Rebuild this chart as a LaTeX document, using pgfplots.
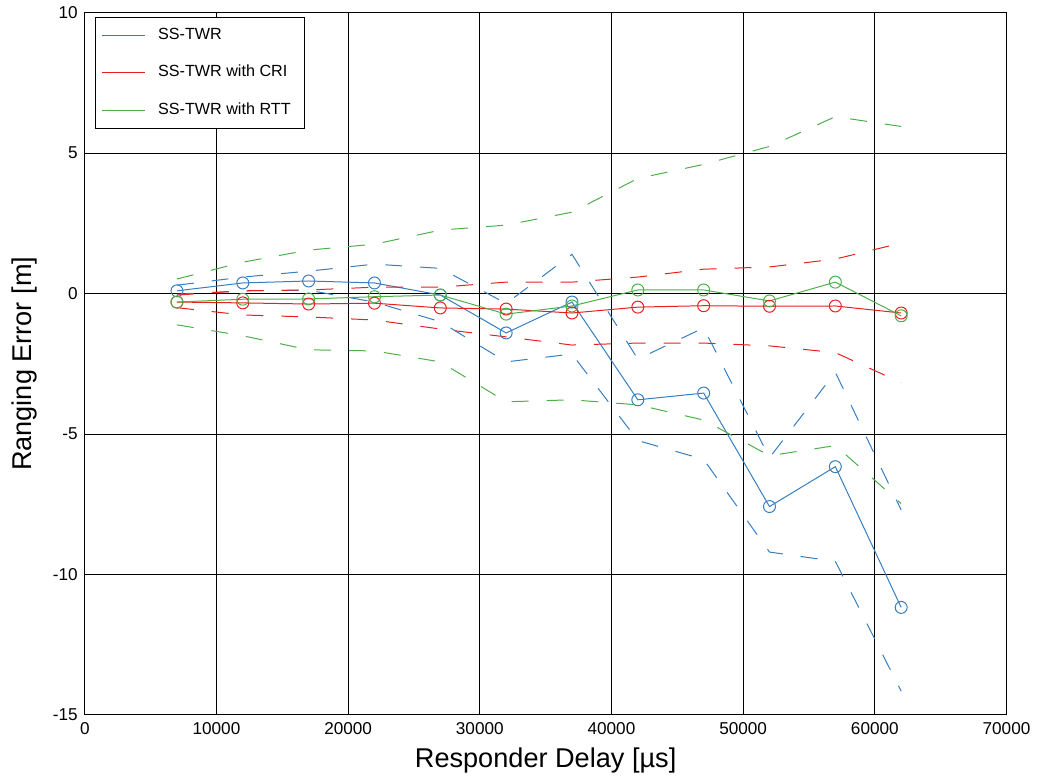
\documentclass[border=0pt]{standalone}
\usepackage{pgfplots}
\pgfplotsset{compat=1.18}
\usepackage{pgfplotstable}
\usepackage{fontspec}
\setmainfont{Liberation Sans}
\usetikzlibrary{calc}
\definecolor{cblue}{RGB}{55,126,190}
\definecolor{cred}{RGB}{235,30,30}
\definecolor{cgreen}{RGB}{77,175,74}

\pgfplotstableread{
x     bm     bu     bl     rm     ru     rl     gm     gu     gl
7000  0.10   0.30  -0.02  -0.30  -0.05  -0.50  -0.30   0.52  -1.11
12000 0.38   0.59   0.10  -0.33   0.10  -0.76  -0.20   1.12  -1.50
17000 0.45   0.80   0.12  -0.37   0.13  -0.83  -0.19   1.55  -2.00
22000 0.38   1.05  -0.30  -0.34   0.23  -0.94  -0.11   1.76  -2.04
27000 -0.05  0.90  -1.00  -0.51   0.23  -1.26  -0.05   2.26  -2.43
32000 -1.40 -0.35  -2.43  -0.55   0.41  -1.54  -0.73   2.44  -3.85
37000 -0.30  1.40  -2.15  -0.69   0.41  -1.83  -0.44   2.90  -3.78
42000 -3.78 -2.33  -5.23  -0.48   0.59  -1.76   0.13   4.10  -3.96
47000 -3.54 -1.22  -5.90  -0.43   0.87  -1.76   0.13   4.60  -4.50
52000 -7.58 -5.84  -9.20  -0.45   0.95  -1.86  -0.26   5.24  -5.77
57000 -6.16 -2.80  -9.53  -0.44   1.23  -2.10   0.41   6.30  -5.41
62000 -11.17 -7.70 -14.15 -0.69   1.80  -3.17  -0.79   5.95  -7.47
}\datatable

\begin{document}
\begin{tikzpicture}
\begin{axis}[
  width=462pt, height=352pt, scale only axis,
  xmin=0, xmax=70000, ymin=-15, ymax=10,
  scaled x ticks=false, scaled y ticks=false,
  xtick={0,10000,20000,30000,40000,50000,60000,70000},
  xticklabels={0,10000,20000,30000,40000,50000,60000,70000},
  ytick={-15,-10,-5,0,5,10},
  yticklabels={-15,-10,-5,0,5,10},
  grid=major,
  grid style={black, line width=0.5pt},
  axis line style={black, line width=0.5pt},
  tick style={black, line width=0.5pt},
  major tick length=4pt, tick align=inside,
  ticklabel style={font=\fontsize{8.6}{10}\selectfont},
  xlabel={Responder Delay [µs]},
  ylabel={Ranging Error [m]},
  label style={font=\fontsize{13.6}{16}\selectfont},
  xlabel style={at={(axis description cs:0.5,-0.065)}, anchor=center},
  ylabel style={at={(axis description cs:-0.065,0.5)}, anchor=center},
  legend cell align=left,
  legend style={at={(axis description cs:0.0108,0.9945)}, anchor=north west,
    draw=black, fill=white, line width=0.5pt,
    font=\fontsize{8.1}{9.5}\selectfont,
    row sep=6.5pt, inner xsep=3pt, inner ysep=3pt,
    nodes={inner ysep=2.5pt, inner xsep=4pt},
    /tikz/every odd column/.append style={column sep=2.5pt}},
  legend image code/.code={\draw[#1, mark=none] (0pt,0pt) -- (21.5pt,0pt);},
  every axis plot/.append style={line width=0.5pt},
]
\addplot[cblue, mark=o, mark size=3pt] table[x=x, y=bm] {\datatable};
\addlegendentry{SS-TWR}
\addplot[cred, mark=o, mark size=3pt] table[x=x, y=rm] {\datatable};
\addlegendentry{SS-TWR with CRI}
\addplot[cgreen, mark=o, mark size=3pt] table[x=x, y=gm] {\datatable};
\addlegendentry{SS-TWR with RTT}

\addplot[cblue, dash pattern=on 8.5pt off 9pt, forget plot] table[x=x, y=bu] {\datatable};
\addplot[cblue, dash pattern=on 8.5pt off 9pt, forget plot] table[x=x, y=bl] {\datatable};
\addplot[cred, dash pattern=on 8.5pt off 9pt, forget plot] table[x=x, y=ru] {\datatable};
\addplot[cred, dash pattern=on 8.5pt off 9pt, forget plot] table[x=x, y=rl] {\datatable};
\addplot[cgreen, dash pattern=on 8.5pt off 9pt, forget plot] table[x=x, y=gu] {\datatable};
\addplot[cgreen, dash pattern=on 8.5pt off 9pt, forget plot] table[x=x, y=gl] {\datatable};
\end{axis}
\path ($(current axis.south west)+(-42.5pt,-31pt)$) rectangle ($(current axis.north east)+(14pt,6pt)$);
\end{tikzpicture}
\end{document}
